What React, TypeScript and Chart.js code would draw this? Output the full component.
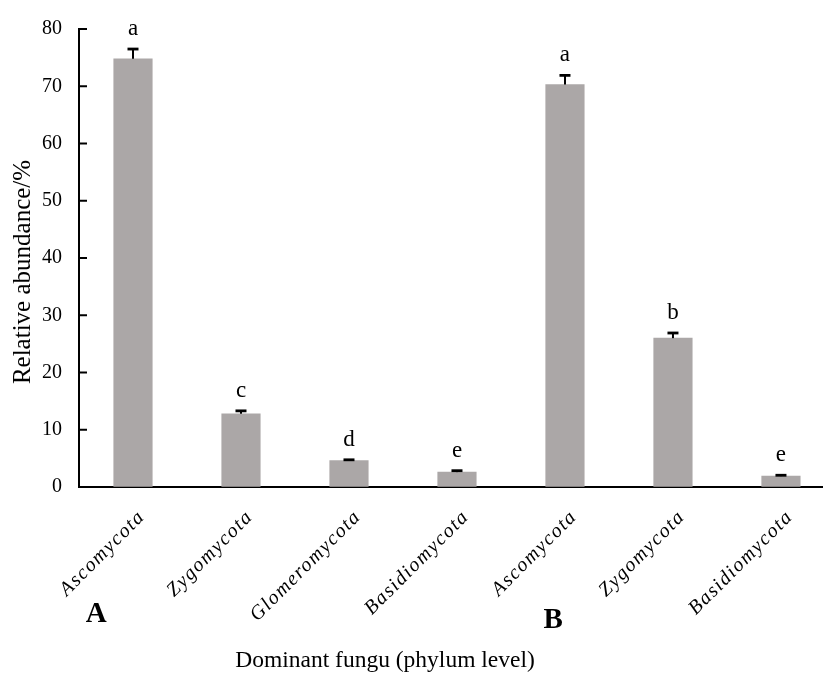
import React, { useEffect, useRef } from "react";
import { Chart, registerables } from "chart.js";

Chart.register(...registerables);

const categories = ["Ascomycota", "Zygomycota", "Glomeromycota", "Basidiomycota", "Ascomycota", "Zygomycota", "Basidiomycota"];
const values = [74.8, 12.8, 4.6, 2.6, 70.3, 26.0, 1.9];
const errors = [1.7, 0.5, 0.15, 0.25, 1.6, 0.9, 0.15];
const letters = ["a", "c", "d", "e", "a", "b", "e"];
const groupLabels = ["A", "B"];
const yMin = 0;
const yMax = 80;
const yStep = 10;

const SERIF = "'Liberation Serif', 'Times New Roman', serif";

const annotatePlugin = {
  id: "annotate",
  afterDatasetsDraw(chart: any) {
    const ctx = chart.ctx;
    const xs = chart.scales.x;
    const ys = chart.scales.y;
    ctx.save();
    ctx.strokeStyle = "#000";
    values.forEach((v, i) => {
      const x = xs.getPixelForValue(i);
      const yTop = ys.getPixelForValue(v + errors[i]);
      const yBar = ys.getPixelForValue(v);
      ctx.lineWidth = 2;
      ctx.beginPath();
      ctx.moveTo(x, yBar);
      ctx.lineTo(x, yTop);
      ctx.stroke();
      ctx.lineWidth = 2.8;
      ctx.beginPath();
      ctx.moveTo(x - 5.5, yTop);
      ctx.lineTo(x + 5.5, yTop);
      ctx.stroke();
    });
    ctx.restore();
  },
  afterDraw(chart: any) {
    const ctx = chart.ctx;
    const xs = chart.scales.x;
    const ys = chart.scales.y;
    const area = chart.chartArea;
    ctx.save();
    // inward y ticks
    ctx.strokeStyle = "#000";
    ctx.lineWidth = 2;
    ys.ticks.forEach((t: any) => {
      const y = ys.getPixelForValue(t.value);
      ctx.beginPath();
      ctx.moveTo(area.left, y);
      ctx.lineTo(area.left + 8, y);
      ctx.stroke();
    });
    ctx.fillStyle = "#000";
    // significance letters
    ctx.font = `23px ${SERIF}`;
    ctx.textAlign = "center";
    ctx.textBaseline = "alphabetic";
    letters.forEach((l, i) => {
      const x = xs.getPixelForValue(i);
      const y = ys.getPixelForValue(values[i] + errors[i]) - 14;
      ctx.fillText(l, x, y);
    });
    // rotated category labels
    ctx.font = `italic 20px ${SERIF}`;
    (ctx as any).letterSpacing = "1.5px";
    categories.forEach((c, i) => {
      const x = xs.getPixelForValue(i) + 9;
      const y = area.bottom + 27;
      ctx.save();
      ctx.translate(x, y);
      ctx.rotate(-Math.PI / 4);
      ctx.textAlign = "right";
      ctx.textBaseline = "middle";
      ctx.fillText(c, 0, 0);
      ctx.restore();
    });
    (ctx as any).letterSpacing = "0px";
    // group labels
    ctx.font = `bold 29px ${SERIF}`;
    ctx.textAlign = "center";
    ctx.textBaseline = "middle";
    ctx.fillText(groupLabels[0], xs.getPixelForValue(-0.34), area.bottom + 128);
    ctx.fillText(groupLabels[1], xs.getPixelForValue(3.89), area.bottom + 134);
    // axis titles
    ctx.font = `23.5px ${SERIF}`;
    ctx.fillText("Dominant fungu (phylum level)", 385, 661);
    ctx.save();
    ctx.translate(23, (area.top + area.bottom) / 2 + 14);
    ctx.rotate(-Math.PI / 2);
    ctx.font = `25px ${SERIF}`;
    ctx.fillText("Relative abundance/%", 0, 0);
    ctx.restore();
    ctx.restore();
  },
};

export default function App() {
  const ref = useRef<HTMLCanvasElement | null>(null);
  useEffect(() => {
    document.body.style.margin = "0";
    const canvas = ref.current!;
    const chart = new Chart(canvas, {
      type: "bar",
      data: {
        datasets: [
          {
            data: values.map((v, i) => ({ x: i, y: v })),
            backgroundColor: "#aba7a7",
            borderWidth: 0,
            barThickness: 38.5,
          },
        ],
      },
      options: {
        responsive: false,
        animation: false,
        layout: { padding: { top: 20, right: 2, left: 0, bottom: 0 } },
        plugins: { legend: { display: false }, tooltip: { enabled: false } },
        scales: {
          x: {
            type: "linear",
            min: -0.5,
            max: 6.38,
            offset: false,
            ticks: { display: false },
            grid: { display: false, drawTicks: false, offset: false },
            border: { display: true, color: "#000", width: 2 },
            afterFit: (s: any) => {
              s.height = 188;
            },
          },
          y: {
            min: yMin,
            max: yMax,
            ticks: {
              stepSize: yStep,
              color: "#000",
              font: { family: SERIF, size: 20 },
              padding: 17,
            },
            grid: { display: true, drawOnChartArea: false, drawTicks: false },
            border: { display: true, color: "#000", width: 2 },
            afterFit: (s: any) => {
              s.width = 79;
            },
          },
        },
      },
      plugins: [annotatePlugin],
    });
    return () => chart.destroy();
  }, []);
  return (
    <div style={{ width: 824, height: 675 }}>
      <canvas ref={ref} width={824} height={675} style={{ width: 824, height: 675, display: "block" }} />
    </div>
  );
}
